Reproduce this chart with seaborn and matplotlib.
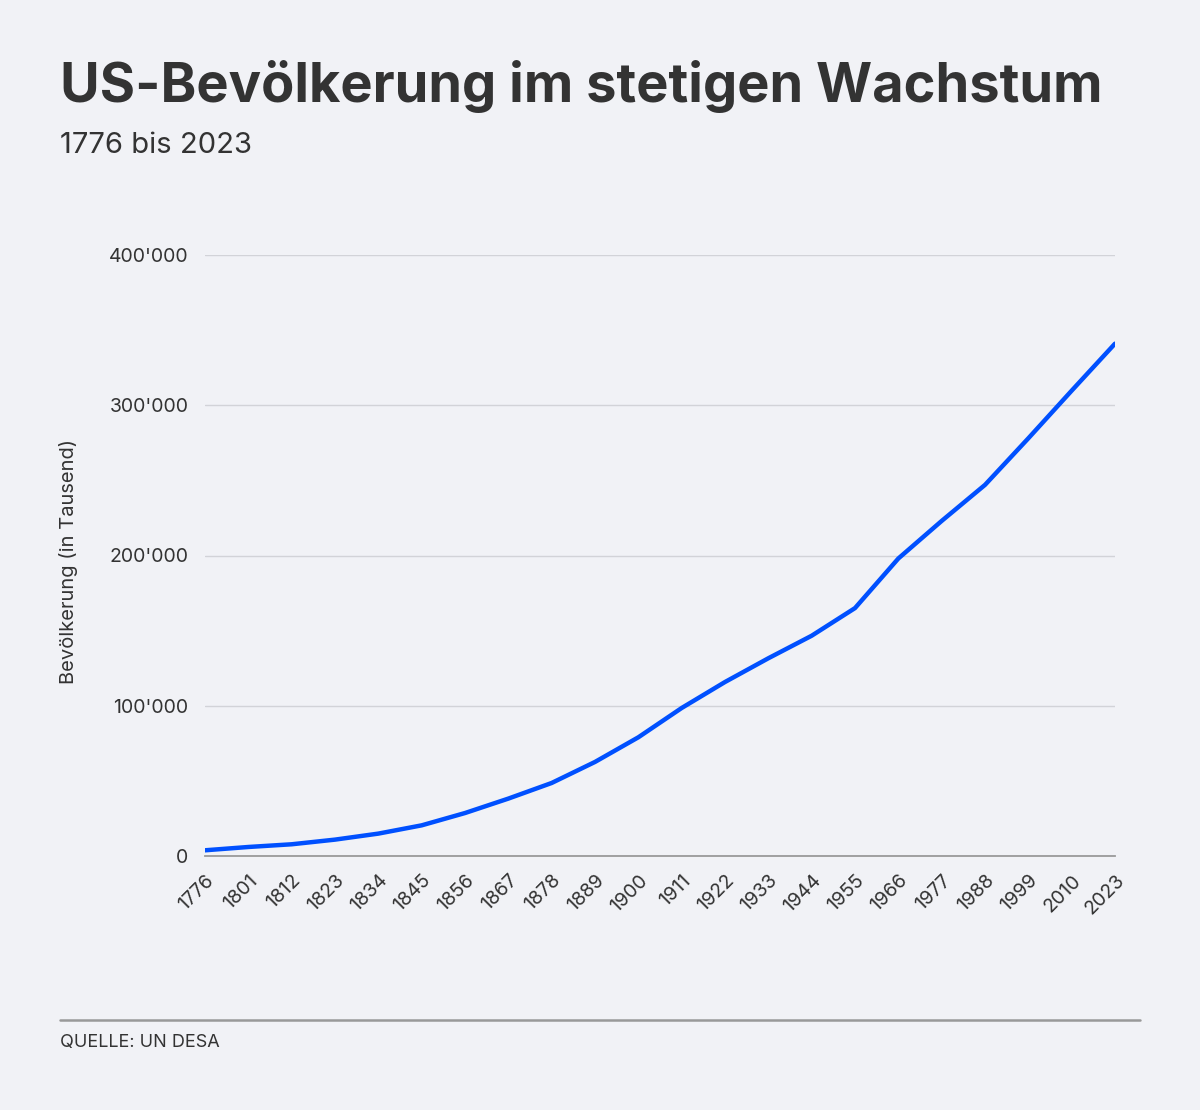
import matplotlib
matplotlib.use("Agg")
import matplotlib.pyplot as plt
import seaborn as sns
import pandas as pd
from matplotlib.ticker import FuncFormatter

# data (population in thousand)
years = ['1776', '1801', '1812', '1823', '1834', '1845', '1856', '1867', '1878', '1889', '1900',
         '1911', '1922', '1933', '1944', '1955', '1966', '1977', '1988', '1999', '2010', '2023']
population = [3800, 6000, 7800, 10900, 14900, 20400, 28600, 38200, 48600, 62600, 79000,
              98500, 115800, 131600, 146600, 165000, 198000, 223000, 247000, 278000, 309700, 341000]
y_ticks = [0, 100000, 200000, 300000, 400000]

df = pd.DataFrame({'pos': range(len(years)), 'year': years, 'population': population})

bg = '#f1f2f6'
dark = '#333333'

sns.set_theme(style='white')
plt.rcParams['font.family'] = ['Inter', 'DejaVu Sans']

fig = plt.figure(figsize=(12, 11.1), dpi=100, facecolor=bg)
ax = fig.add_axes([205/1200, 1-856/1110, (1115-205)/1200, (856-255)/1110])
ax.set_facecolor(bg)

sns.lineplot(data=df, x='pos', y='population', color='#0050ff', linewidth=3.2, ax=ax)

ax.set_xlim(0, len(years)-1)
ax.set_ylim(0, 400000)
ax.set_yticks(y_ticks)
ax.yaxis.set_major_formatter(FuncFormatter(lambda v, p: f"{int(v):,}".replace(",", "'")))
ax.set_xticks(df['pos'])
ax.set_xticklabels(years, rotation=45, ha='right', rotation_mode='anchor')

ax.grid(axis='y', color='#d2d3d8', linewidth=1)
ax.set_axisbelow(True)
for s in ['top', 'right', 'left']:
    ax.spines[s].set_visible(False)
ax.spines['bottom'].set_color('#9a9a9a')
ax.spines['bottom'].set_linewidth(1.3)
ax.tick_params(axis='x', length=7, width=1.2, color='#9a9a9a', labelsize=14, labelcolor=dark, pad=4)
ax.tick_params(axis='y', length=0, labelsize=14, labelcolor=dark, pad=12)
ax.set_xlabel('')
ax.set_ylabel('')

fig.text(68/1200, 1-562/1110, 'Bevölkerung (in Tausend)', rotation=90, ha='center', va='center',
         fontsize=14.5, color=dark)

fig.text(60/1200, 1-102/1110, 'US-Bevölkerung im stetigen Wachstum', fontsize=39, fontweight='bold',
         color=dark, ha='left', va='baseline')
fig.text(60/1200, 1-153/1110, '1776 bis 2023', fontsize=21, color=dark, ha='left', va='baseline')

fig.add_artist(plt.Line2D([60/1200, 1140/1200], [1-1020/1110, 1-1020/1110], color='#999999', linewidth=1.8))
fig.text(60/1200, 1-1043/1110, 'QUELLE: UN DESA', fontsize=13, color=dark, ha='left', va='center')

fig.savefig('out.png', dpi=100, facecolor=bg)
